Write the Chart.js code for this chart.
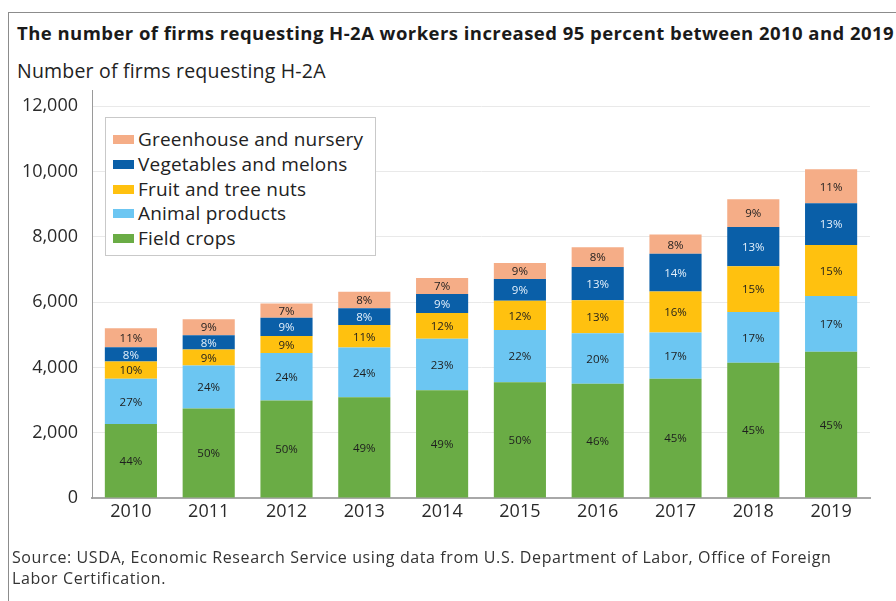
<!DOCTYPE html>
<html>
<head>
<meta charset="utf-8">
<script src="https://cdn.jsdelivr.net/npm/chart.js@4.4.1/dist/chart.umd.min.js"></script>
<style>
  html, body { margin: 0; padding: 0; background: #fff; }
  #wrap { position: relative; width: 896px; height: 601px; overflow: hidden; background: #fff;
          font-family: "Open Sans", "Liberation Sans", sans-serif; color: #222; }
  #frame { position: absolute; left: 8px; top: 12px; width: 900px; height: 600px;
           border-left: 1.5px solid #8c8c8c; border-top: 1.5px solid #8c8c8c; }
  #title { position: absolute; left: 17px; top: 20px; font-size: 18.5px; font-weight: 700;
           letter-spacing: 0.45px; white-space: nowrap; color: #1a1a1a; }
  #subtitle { position: absolute; left: 17px; top: 57px; font-size: 19.5px; letter-spacing: 0.2px;
              white-space: nowrap; color: #222; }
  #chart { position: absolute; left: 0; top: 0; }
  #legend { position: absolute; left: 105px; top: 117px; width: 271px; height: 139px;
            border: 1px solid #c9c9c9; background: #fff; box-sizing: border-box; padding-top: 9px; }
  .item { height: 24.75px; line-height: 24.75px; font-size: 19px; letter-spacing: 0.2px;
          white-space: nowrap; position: relative; }
  .sw { position: absolute; left: 7px; top: 8px; width: 21px; height: 9px; }
  .lbl { position: absolute; left: 32px; top: 0; color: #222; }
  #source { position: absolute; left: 12px; top: 547px; font-size: 16px; letter-spacing: 0.6px;
            line-height: 21px; color: #333; }
</style>
</head>
<body>
<div id="wrap">
  <div id="frame"></div>
  <div id="title">The number of firms requesting H-2A workers increased 95 percent between 2010 and 2019</div>
  <div id="subtitle">Number of firms requesting H-2A</div>
  <canvas id="chart" width="896" height="601"></canvas>
  <div id="legend"></div>
  <div id="source">Source: USDA, Economic Research Service using data from U.S. Department of Labor, Office of Foreign<br>Labor Certification.</div>
</div>
<script>
'use strict';

// ─── Datos ────────────────────────────────────────────────────────────────────
const years = ['2010','2011','2012','2013','2014','2015','2016','2017','2018','2019'];

// número de empresas por sector
const fieldCrops     = [2270, 2740, 2990, 3090, 3300, 3550, 3500, 3650, 4140, 4480];
const animalProducts = [1380, 1320, 1450, 1520, 1580, 1600, 1550, 1420, 1560, 1710];
const fruitNuts      = [ 530,  490,  520,  690,  790,  890, 1010, 1260, 1400, 1560];
const vegMelons      = [ 440,  440,  560,  510,  580,  670, 1020, 1150, 1200, 1280];
const greenhouse     = [ 580,  490,  440,  510,  490,  490,  600,  590,  850, 1040];

// porcentajes rotulados en cada segmento
const pctField      = [44, 50, 50, 49, 49, 50, 46, 45, 45, 45];
const pctAnimal     = [27, 24, 24, 24, 23, 22, 20, 17, 17, 17];
const pctFruit      = [10,  9,  9, 11, 12, 12, 13, 16, 15, 15];
const pctVeg        = [ 8,  8,  9,  8,  9,  9, 13, 14, 13, 13];
const pctGreenhouse = [11,  9,  7,  8,  7,  9,  8,  8,  9, 11];

const yTicks = [0, 2000, 4000, 6000, 8000, 10000, 12000];

const FONT = '"Open Sans", "Liberation Sans", sans-serif';

const series = [
    { label: 'Field crops',            data: fieldCrops,     pct: pctField,      color: '#6aac45', text: '#1e1e1e' },
    { label: 'Animal products',        data: animalProducts, pct: pctAnimal,     color: '#6cc6f2', text: '#1e1e1e' },
    { label: 'Fruit and tree nuts',    data: fruitNuts,      pct: pctFruit,      color: '#ffc10f', text: '#1e1e1e' },
    { label: 'Vegetables and melons',  data: vegMelons,      pct: pctVeg,        color: '#0a5fa8', text: '#e4f0fb' },
    { label: 'Greenhouse and nursery', data: greenhouse,     pct: pctGreenhouse, color: '#f5ad87', text: '#1e1e1e' },
];

// ─── Leyenda HTML (orden inverso, como en el original) ───────────────────────
const legend = document.getElementById('legend');
series.slice().reverse().forEach(function (s) {
    const row = document.createElement('div');
    row.className = 'item';
    row.innerHTML = '<span class="sw" style="background:' + s.color + '"></span><span class="lbl">' + s.label + '</span>';
    legend.appendChild(row);
});

// ─── Rótulos de porcentaje dentro de las barras ──────────────────────────────
const pctLabels = {
    id: 'pctLabels',
    afterDatasetsDraw: function (chart) {
        const ctx = chart.ctx;
        ctx.save();
        ctx.font = '11.5px ' + FONT;
        ctx.textAlign = 'center';
        ctx.textBaseline = 'middle';
        chart.data.datasets.forEach(function (ds, i) {
            const meta = chart.getDatasetMeta(i);
            meta.data.forEach(function (bar, j) {
                const p = bar.getProps(['x', 'y', 'base'], true);
                ctx.fillStyle = ds.textColor;
                ctx.fillText(ds.pct[j] + '%', p.x, (p.y + p.base) / 2 + 1);
            });
        });
        ctx.restore();
    }
};

// ─── Gráfico ──────────────────────────────────────────────────────────────────
new Chart(document.getElementById('chart'), {
    type: 'bar',
    data: {
        labels: years,
        datasets: series.map(function (s) {
            return {
                label: s.label,
                data: s.data,
                pct: s.pct,
                textColor: s.text,
                backgroundColor: s.color,
                borderWidth: 0,
                barPercentage: 0.67,
                categoryPercentage: 1,
            };
        }),
    },
    options: {
        responsive: false,
        animation: false,
        layout: { padding: { top: 90, right: 26, left: 0, bottom: 0 } },
        plugins: {
            legend: { display: false },
            tooltip: { enabled: false },
        },
        scales: {
            x: {
                stacked: true,
                grid: { display: false, drawTicks: false },
                border: { color: '#a8a8a8', width: 2 },
                ticks: { color: '#2a2a2a', font: { family: FONT, size: 18 }, padding: 3 },
                afterFit: function (scale) { scale.height = 103; },
            },
            y: {
                stacked: true,
                min: 0,
                max: 12500,
                afterBuildTicks: function (scale) {
                    scale.ticks = yTicks.map(function (v) { return { value: v }; });
                },
                grid: { color: '#e9e9e9', drawTicks: false },
                border: { color: '#9a9a9a', width: 1 },
                ticks: {
                    color: '#2a2a2a',
                    font: { family: FONT, size: 18 },
                    padding: 14,
                    callback: function (v) { return v.toLocaleString('en-US'); },
                },
                afterFit: function (scale) { scale.width = 92; },
            },
        },
    },
    plugins: [pctLabels],
});
</script>
</body>
</html>
